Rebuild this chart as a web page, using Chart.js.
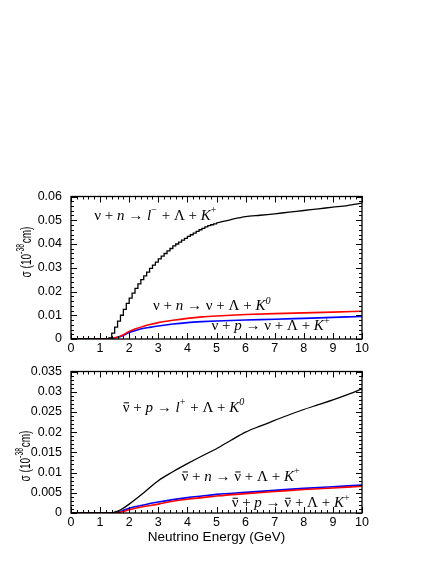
<!DOCTYPE html>
<html>
<head>
<meta charset="utf-8">
<script src="https://cdn.jsdelivr.net/npm/chart.js@4.4.1/dist/chart.umd.min.js"></script>
<style>
  body { margin: 0; background: #fff; width: 436px; height: 564px; position: relative; overflow: hidden; }
  canvas { position: absolute; left: 0; }
</style>
</head>
<body>
<canvas id="topChart" width="436" height="180" style="top:180px"></canvas>
<canvas id="bottomChart" width="436" height="200" style="top:355px"></canvas>
<script>
// ----------- Data (GeV, 10^-38 cm^2) -----------
// top panel: nu + n -> l- + Lambda + K+  (stair-stepped part, then smooth tail)
const topCCStepE = [0, 1.2, 1.3, 1.4, 1.5, 1.6, 1.7, 1.8, 1.9, 2.0, 2.1, 2.2, 2.3, 2.4, 2.5, 2.6, 2.7, 2.8, 2.9, 3.0,
  3.1, 3.2, 3.3, 3.4, 3.5, 3.6, 3.7, 3.8, 3.9, 4.0, 4.1, 4.2, 4.3, 4.4, 4.5, 4.6, 4.7, 4.8, 4.9, 5.0];
const topCCStepS = [0, 0, 0.0005, 0.0025, 0.005, 0.0075, 0.010, 0.0125, 0.015, 0.0172, 0.0193, 0.0213, 0.0232, 0.0250, 0.0266, 0.0282, 0.0297, 0.0311, 0.0324, 0.0337,
  0.0349, 0.0360, 0.0371, 0.0381, 0.0392, 0.0400, 0.0408, 0.0416, 0.0424, 0.0432, 0.0439, 0.0446, 0.0453, 0.0460, 0.0466, 0.0472, 0.0477, 0.0481, 0.0485, 0.0489];
const topCCTailE = [5.0, 5.5, 6.0, 6.5, 7.0, 7.5, 8.0, 8.5, 9.0, 9.5, 10];
const topCCTailS = [0.0489, 0.0503, 0.0515, 0.0521, 0.0527, 0.0534, 0.0541, 0.0548, 0.0555, 0.0562, 0.0572];

// top panel: nu + n -> nu + Lambda + K0 (red), nu + p -> nu + Lambda + K+ (blue)
const topNCE = [0, 1.3, 1.5, 1.75, 2, 2.25, 2.5, 2.75, 3, 3.5, 4, 4.5, 5, 6, 7, 8, 9, 10];
const topNCnS = [0, 0, 0.0005, 0.0015, 0.0032, 0.0044, 0.0054, 0.0062, 0.0069, 0.0079, 0.0087, 0.0093, 0.0097, 0.0103, 0.0107, 0.0110, 0.0113, 0.0117];
const topNCpS = [0, 0, 0.0004, 0.0013, 0.0027, 0.0037, 0.0045, 0.0050, 0.0055, 0.0063, 0.0069, 0.0073, 0.0076, 0.0080, 0.0083, 0.0087, 0.0091, 0.0095];

// bottom panel: nubar + p -> l+ + Lambda + K0
const botCCE = [0, 1.4, 1.5, 1.75, 2, 2.5, 3, 3.5, 4, 4.5, 5, 5.5, 6, 6.5, 7, 7.5, 8, 8.5, 9, 9.5, 10];
const botCCS = [0, 0, 0.0002, 0.0010, 0.0022, 0.0050, 0.0080, 0.0102, 0.0122, 0.0141, 0.0159, 0.0180, 0.0200, 0.0215, 0.0229, 0.0243, 0.0256, 0.0268, 0.0280, 0.0293, 0.0307];

// bottom panel: nubar + n -> nubar + Lambda + K+ (blue), nubar + p -> nubar + Lambda + K+ (red)
const botNCE = [0, 1.4, 1.5, 1.75, 2, 2.5, 3, 3.5, 4, 4.5, 5, 6, 7, 8, 9, 10];
const botNCnS = [0, 0, 0.0001, 0.0005, 0.0012, 0.0020, 0.0027, 0.0033, 0.0038, 0.0042, 0.0046, 0.0051, 0.0056, 0.0061, 0.0065, 0.0069];
const botNCpS = [0, 0, 0, 0.0003, 0.0008, 0.0016, 0.0022, 0.0029, 0.0034, 0.0038, 0.0042, 0.0048, 0.0053, 0.0058, 0.0062, 0.0066];

const topYTicks = [0, 0.01, 0.02, 0.03, 0.04, 0.05, 0.06];
const botYTicks = [0, 0.005, 0.01, 0.015, 0.02, 0.025, 0.03, 0.035];

// reaction labels: [text, style] pieces; style i = italic, s = superscript, b = bar over
const topLabels = [
  { at: [0.8, 0.0503], parts: [['ν + '], ['n', 'i'], [' → '], ['l', 'i'], ['−', 's'], [' + Λ + '], ['K', 'i'], ['+', 's']] },
  { at: [2.82, 0.0122], parts: [['ν + '], ['n', 'i'], [' → ν + Λ + '], ['K', 'i'], ['0', 'si']] },
  { at: [4.83, 0.0037], parts: [['ν + '], ['p', 'i'], [' → ν + Λ + '], ['K', 'i'], ['+', 's']] }
];
const botLabels = [
  { at: [1.78, 0.0251], parts: [['ν', 'b'], [' + '], ['p', 'i'], [' → '], ['l', 'i'], ['+', 's'], [' + Λ + '], ['K', 'i'], ['0', 'si']] },
  { at: [3.8, 0.0080], parts: [['ν', 'b'], [' + '], ['n', 'i'], [' → '], ['ν', 'b'], [' + Λ + '], ['K', 'i'], ['+', 's']] },
  { at: [5.52, 0.0015], parts: [['ν', 'b'], [' + '], ['p', 'i'], [' → '], ['ν', 'b'], [' + Λ + '], ['K', 'i'], ['+', 's']] }
];

const pts = (xs, ys) => xs.map((x, i) => ({ x, y: ys[i] }));
const SANS = '"Liberation Sans", Arial, sans-serif';
const SERIF = '"Liberation Serif", "Times New Roman", serif';

// ----------- rich text helper -----------
function richWidth(ctx, parts, size, family) {
  let w = 0;
  parts.forEach(([t, st = '']) => {
    const sz = st.includes('s') ? size * 0.68 : size;
    ctx.font = (st.includes('i') ? 'italic ' : '') + sz + 'px ' + family;
    w += ctx.measureText(t).width + (st.includes('s') ? 1 : 0);
  });
  return w;
}
function drawRich(ctx, parts, x, y, size, family) {
  let cx = x;
  parts.forEach(([t, st = '']) => {
    const sup = st.includes('s');
    const sz = sup ? size * 0.68 : size;
    ctx.font = (st.includes('i') ? 'italic ' : '') + sz + 'px ' + family;
    const dy = sup ? -size * 0.42 : 0;
    ctx.fillText(t, cx, y + dy);
    const w = ctx.measureText(t).width;
    if (st.includes('b')) {
      ctx.beginPath();
      ctx.lineWidth = 1;
      ctx.moveTo(cx + 1, y - size * 0.58);
      ctx.lineTo(cx + w - 0.5, y - size * 0.58);
      ctx.stroke();
    }
    cx += w + (sup ? 1 : 0);
  });
}

// ----------- frame, inside ticks, titles, labels -----------
const framePlugin = {
  id: 'frame',
  afterDatasetsDraw(chart, args, o) {
    const { ctx, chartArea: a, scales: { x, y } } = chart;
    ctx.save();
    ctx.strokeStyle = '#000';
    ctx.fillStyle = '#000';
    ctx.lineWidth = 1.3;
    ctx.strokeRect(a.left, a.top, a.right - a.left, a.bottom - a.top);
    ctx.lineWidth = 1;
    ctx.beginPath();
    const nx = Math.round((x.max - x.min) / o.xMinor);
    for (let i = 0; i <= nx; i++) {
      const v = x.min + i * o.xMinor;
      const px = Math.round(x.getPixelForValue(v)) + 0.5;
      const len = (i % Math.round(o.xMajor / o.xMinor) === 0) ? 6 : 3;
      ctx.moveTo(px, a.bottom); ctx.lineTo(px, a.bottom - len);
      ctx.moveTo(px, a.top); ctx.lineTo(px, a.top + len);
    }
    const ny = Math.round((y.max - y.min) / o.yMinor);
    for (let i = 0; i <= ny; i++) {
      const v = y.min + i * o.yMinor;
      const py = Math.round(y.getPixelForValue(v)) + 0.5;
      const len = (i % Math.round(o.yMajor / o.yMinor) === 0) ? 6 : 3;
      ctx.moveTo(a.left, py); ctx.lineTo(a.left + len, py);
      ctx.moveTo(a.right, py); ctx.lineTo(a.right - len, py);
    }
    ctx.stroke();

    // reaction labels
    ctx.textBaseline = 'alphabetic';
    ctx.textAlign = 'left';
    o.labels.forEach(l => {
      drawRich(ctx, l.parts, x.getPixelForValue(l.at[0]), y.getPixelForValue(l.at[1]), 15, SERIF);
    });

    // y title, rotated and squeezed along its length like the original
    const yt = [['σ (10'], ['-38', 's'], ['cm)']];
    ctx.translate(o.yTitleX, o.yTitleY);
    ctx.rotate(-Math.PI / 2);
    ctx.scale(0.67, 1);
    ctx.textBaseline = 'middle';
    drawRich(ctx, yt, -richWidth(ctx, yt, 15, SANS) / 2, 0, 15, SANS);
    ctx.setTransform(1, 0, 0, 1, 0, 0);

    if (o.xTitle) {
      ctx.font = '13.5px ' + SANS;
      ctx.textAlign = 'center';
      ctx.textBaseline = 'middle';
      ctx.fillText(o.xTitle, (a.left + a.right) / 2, o.xTitleY);
    }
    ctx.restore();
  }
};

function makePanel(id, datasets, yMax, yTicks, frameOpts, padTop, xAxisH) {
  return new Chart(document.getElementById(id), {
    type: 'line',
    data: { datasets },
    options: {
      responsive: false,
      animation: false,
      devicePixelRatio: 1,
      layout: { padding: { top: padTop, right: 74, left: 0, bottom: 0 } },
      plugins: { legend: { display: false }, tooltip: { enabled: false }, frame: frameOpts },
      elements: { point: { radius: 0 } },
      scales: {
        x: {
          type: 'linear', min: 0, max: 10,
          grid: { display: false, tickLength: 0 }, border: { display: false },
          ticks: { stepSize: 1, color: '#000', font: { family: SANS, size: 12.5 }, padding: 2, maxRotation: 0 },
          afterFit: s => { s.height = xAxisH; }
        },
        y: {
          type: 'linear', min: 0, max: yMax,
          grid: { display: false, tickLength: 0 }, border: { display: false },
          afterBuildTicks: s => { s.ticks = yTicks.map(v => ({ value: v })); },
          ticks: {
            color: '#000', font: { family: SANS, size: 12.5 }, padding: 9,
            callback: v => v === 0 ? '0' : String(parseFloat(v.toFixed(3)))
          },
          afterFit: s => { s.width = 71; }
        }
      }
    },
    plugins: [framePlugin]
  });
}

makePanel('topChart', [
  { data: pts(topCCStepE, topCCStepS), borderColor: '#000', borderWidth: 1.3, stepped: 'before' },
  { data: pts(topCCTailE, topCCTailS), borderColor: '#000', borderWidth: 1.3, tension: 0.3 },
  { data: pts(topNCE, topNCnS), borderColor: '#ff0000', borderWidth: 1.6, cubicInterpolationMode: 'monotone' },
  { data: pts(topNCE, topNCpS), borderColor: '#0000ff', borderWidth: 1.6, cubicInterpolationMode: 'monotone' }
], 0.06, topYTicks, {
  xMinor: 0.2, xMajor: 1, yMinor: 0.002, yMajor: 0.01,
  labels: topLabels, yTitleX: 27, yTitleY: 72
}, 11, 21);

makePanel('bottomChart', [
  { data: pts(botCCE, botCCS), borderColor: '#000', borderWidth: 1.3, cubicInterpolationMode: 'monotone' },
  { data: pts(botNCE, botNCpS), borderColor: '#ff0000', borderWidth: 1.6, cubicInterpolationMode: 'monotone' },
  { data: pts(botNCE, botNCnS), borderColor: '#0000ff', borderWidth: 1.6, cubicInterpolationMode: 'monotone' }
], 0.035, botYTicks, {
  xMinor: 0.2, xMajor: 1, yMinor: 0.001, yMajor: 0.005,
  labels: botLabels, yTitleX: 26, yTitleY: 101, xTitle: 'Neutrino Energy (GeV)', xTitleY: 182
}, 10, 42);
</script>
</body>
</html>
